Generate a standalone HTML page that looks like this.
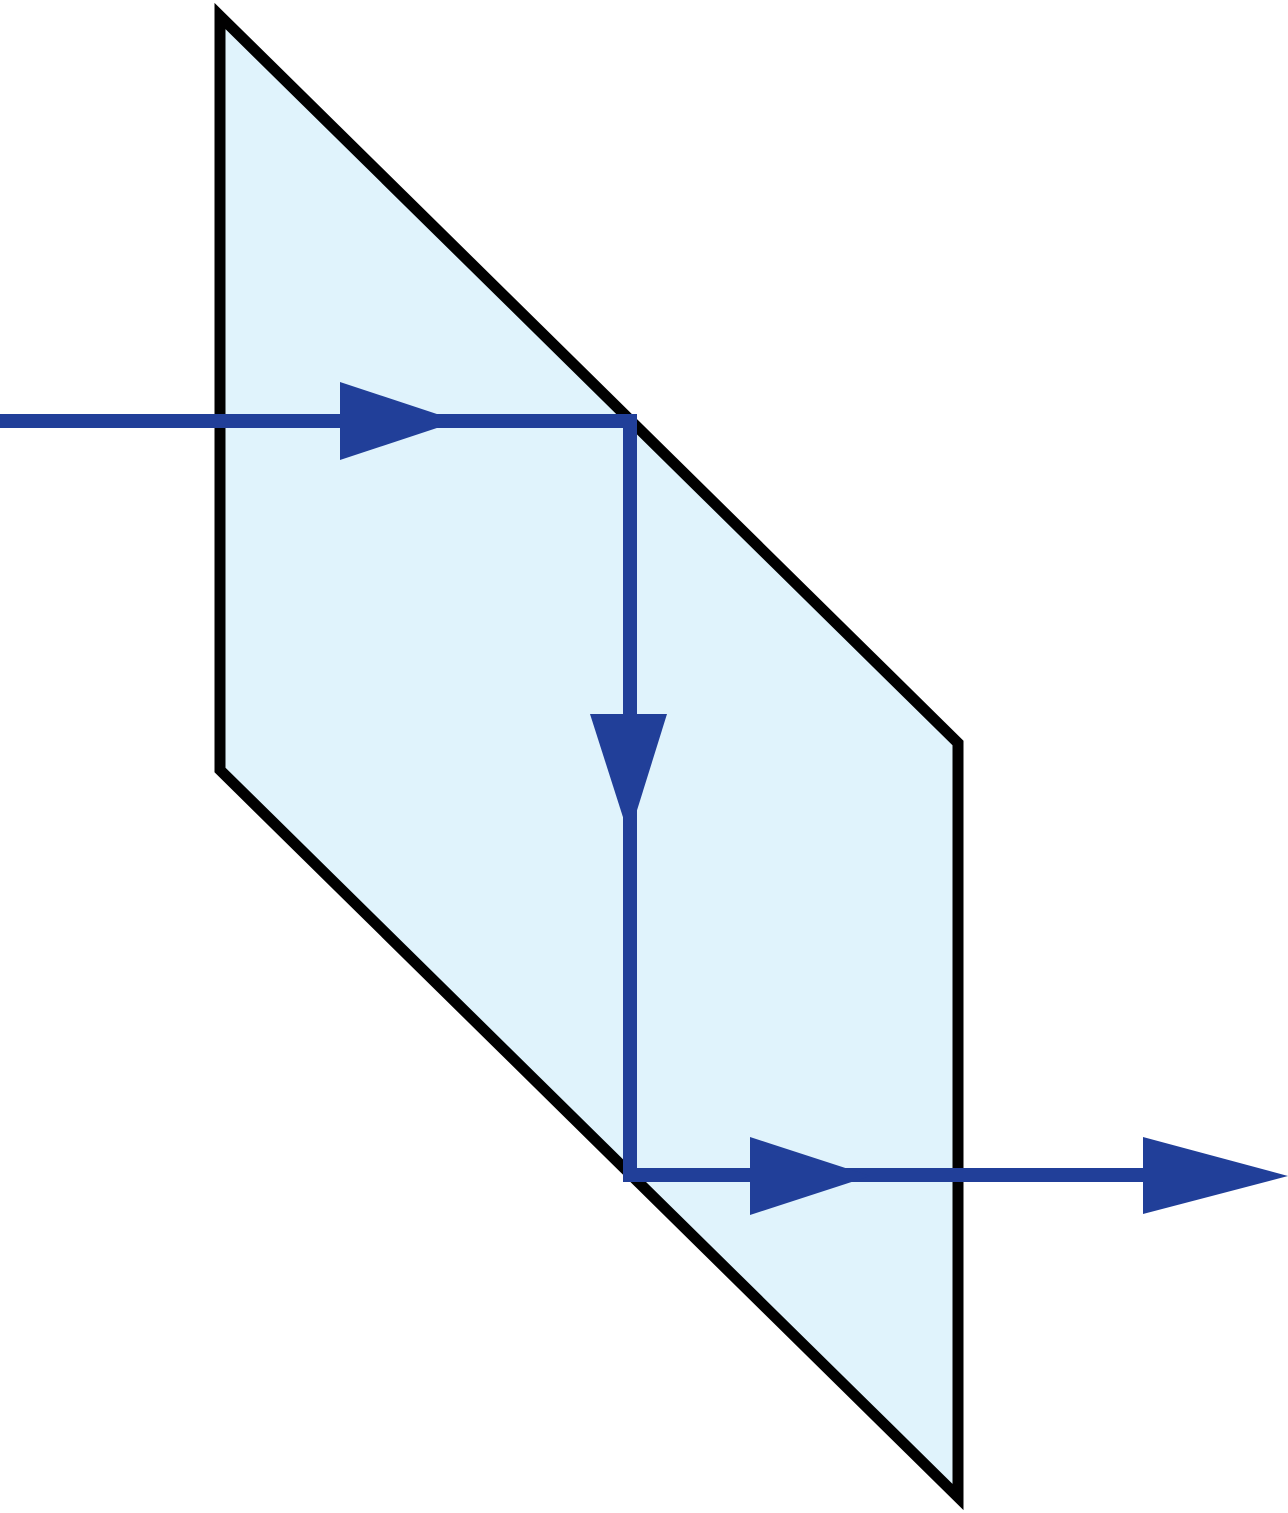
<!DOCTYPE html>
<html><head><meta charset="utf-8"><style>html,body{margin:0;padding:0;background:#fff;}svg{display:block}</style></head>
<body>
<svg width="1288" height="1513" viewBox="0 0 1288 1513" xmlns="http://www.w3.org/2000/svg">
<polygon points="220,16 958,743 958,1497 220,770" fill="#e0f3fc" stroke="#000" stroke-width="11"/>
<polyline points="0,421 630,421 630,1175 1150,1175" fill="none" stroke="#213f99" stroke-width="14"/>
<polygon points="340,382 340,460 458,421" fill="#213f99"/>
<polygon points="590,714 667,714 629,836" fill="#213f99"/>
<polygon points="750,1137 750,1215 870,1176" fill="#213f99"/>
<polygon points="1143,1137 1143,1214 1288,1176" fill="#213f99"/>
</svg>
</body></html>
